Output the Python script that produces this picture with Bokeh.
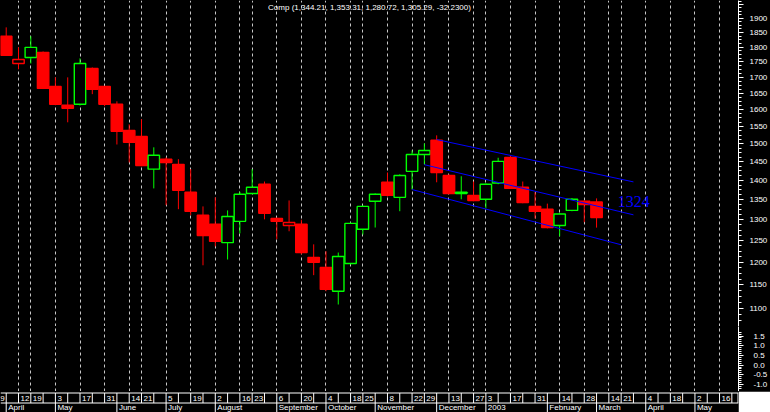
import pandas as pd
from bokeh.plotting import figure
from bokeh.layouts import column
from bokeh.models import ColumnDataSource, Range1d, FixedTicker, PrintfTickFormatter, Grid, Span
from bokeh.core.properties import value
from bokeh.embed import file_html
from bokeh.resources import INLINE

# ---------------- data (weekly candles, Friday dates) ----------------
symbol = "Comp"
dates = ["2002-04-05", "2002-04-12", "2002-04-19", "2002-04-26", "2002-05-03", "2002-05-10",
         "2002-05-17", "2002-05-24", "2002-05-31", "2002-06-07", "2002-06-14", "2002-06-21",
         "2002-06-28", "2002-07-05", "2002-07-12", "2002-07-19", "2002-07-26", "2002-08-02",
         "2002-08-09", "2002-08-16", "2002-08-23", "2002-08-30", "2002-09-06", "2002-09-13",
         "2002-09-20", "2002-09-27", "2002-10-04", "2002-10-11", "2002-10-18", "2002-10-25",
         "2002-11-01", "2002-11-08", "2002-11-15", "2002-11-22", "2002-11-29", "2002-12-06",
         "2002-12-13", "2002-12-20", "2002-12-27", "2003-01-03", "2003-01-10", "2003-01-17",
         "2003-01-24", "2003-01-31", "2003-02-07", "2003-02-14", "2003-02-21", "2003-02-28",
         "2003-03-07"]
opens = [1837, 1745, 1765, 1782, 1671, 1613, 1616, 1729, 1671, 1616, 1538, 1521, 1430, 1457,
         1443, 1369, 1311, 1289, 1245, 1296, 1366, 1390, 1303, 1286, 1289, 1211, 1188, 1136,
         1197, 1277, 1346, 1395, 1356, 1424, 1470, 1510, 1413, 1366, 1361, 1351, 1393, 1462,
         1382, 1333, 1326, 1286, 1323, 1346, 1344.21]
highs = [1868, 1799, 1837, 1785, 1700, 1700, 1762, 1732, 1672, 1625, 1556, 1571, 1490, 1462,
         1457, 1430, 1333, 1356, 1323, 1370, 1430, 1397, 1305, 1348, 1300, 1241, 1225, 1222,
         1293, 1335, 1366, 1421, 1416, 1481, 1501, 1524, 1416, 1411, 1397, 1392, 1461, 1468,
         1397, 1369, 1340, 1316, 1354, 1348, 1353.31]
lows = [1770, 1726, 1745, 1663, 1613, 1562, 1612, 1647, 1610, 1498, 1448, 1438, 1379, 1336,
        1326, 1311, 1193, 1236, 1206, 1267, 1364, 1301, 1253, 1272, 1218, 1171, 1136, 1108,
        1195, 1264, 1281, 1358, 1321, 1376, 1443, 1395, 1364, 1351, 1346, 1328, 1390, 1378,
        1341, 1303, 1279, 1260, 1321, 1294, 1280.72]
closes = [1772, 1758, 1799, 1665, 1616, 1604, 1745, 1662, 1616, 1536, 1504, 1440, 1468, 1448,
          1374, 1321, 1262, 1248, 1308, 1364, 1382, 1316, 1296, 1293, 1222, 1200, 1140, 1213,
          1291, 1333, 1364, 1361, 1413, 1470, 1481, 1421, 1366, 1369, 1348, 1390, 1451, 1379,
          1343, 1321, 1281, 1314, 1351, 1337.52, 1305.29]

# trend channel drawn on the chart
channel_start_dates = ["2002-12-06", "2002-11-29", "2002-11-22"]
channel_start_prices = [1512, 1442, 1376]
channel_end_dates = ["2003-03-28", "2003-03-28", "2003-03-21"]
channel_end_prices = [1396, 1312, 1240]
channel_label = "1324"
channel_label_date = "2003-03-19"
channel_label_price = 1345

# axis / tick data
grid_dates = ["2002-04-12", "2002-04-19", "2002-05-03", "2002-05-17", "2002-05-31", "2002-06-14",
              "2002-06-21", "2002-07-05", "2002-07-19", "2002-08-02", "2002-08-16", "2002-08-23",
              "2002-09-06", "2002-09-20", "2002-10-04", "2002-10-18", "2002-10-25", "2002-11-08",
              "2002-11-22", "2002-11-29", "2002-12-13", "2002-12-27", "2003-01-03", "2003-01-17",
              "2003-01-31", "2003-02-14", "2003-02-28", "2003-03-14", "2003-03-21", "2003-04-04",
              "2003-04-18", "2003-05-02", "2003-05-16"]
day_label_dates = ["2002-03-29"] + grid_dates
week_first, week_last = "2002-03-29", "2003-05-23"
month_names = ["January", "February", "March", "April", "May", "June", "July", "August",
               "September", "October", "November", "December"]
x_start, x_end = "2002-04-01 18:00", "2003-05-26 19:00"
price_low, price_high = 1063, 1965
price_major = [1100, 1150, 1200, 1250, 1300, 1350, 1400, 1450, 1500, 1550, 1600, 1650, 1700,
               1750, 1800, 1850, 1900, 1950]
ind_low, ind_high = -1.36, 1.99
ind_major = [-1.0, -0.5, 0.0, 0.5, 1.0, 1.5]

# ---------------- styling ----------------
FRAME_W, AXIS_W = 738, 32
PRICE_H, IND_H, DATE_H = 326, 65, 21
BG, FG, GRIDC, PAGE = "black", "white", "#c8c8c8", "white"
UP, DOWN, CHAN = "#00ff00", "#ff0000", "#0000ff"
FONT = "Liberation Sans"
DAY_MS = 86400000.0
EPOCH = pd.Timestamp("1970-01-01")


def ms(d):
    return float((pd.Timestamp(d) - EPOCH) / pd.Timedelta(milliseconds=1))


x_range = Range1d(ms(x_start), ms(x_end))
grid_ms = [ms(d) for d in grid_dates]


def make_fig(h, y_range, y_type="linear", axis=True):
    f = figure(frame_width=FRAME_W, frame_height=h, x_range=x_range, y_range=y_range,
               x_axis_type="datetime", y_axis_type=y_type, x_axis_location=None,
               y_axis_location="right" if axis else None,
               output_backend="svg", toolbar_location=None,
               background_fill_color=BG, border_fill_color=BG, outline_line_color=None,
               min_border=0, min_border_right=AXIS_W)
    f.center = [r for r in f.center if not isinstance(r, Grid)]
    return f


def style_axis(ax, major, minor, fmt, standoff=6):
    ax.ticker = FixedTicker(ticks=major, minor_ticks=minor)
    ax.formatter = PrintfTickFormatter(format=fmt)
    ax.axis_line_color = FG
    ax.major_tick_line_color = FG
    ax.minor_tick_line_color = FG
    ax.major_tick_in = 0
    ax.major_tick_out = 5
    ax.minor_tick_in = 0
    ax.minor_tick_out = 3
    ax.major_label_text_color = FG
    ax.major_label_text_font = FONT
    ax.major_label_text_font_size = "8px"
    ax.major_label_standoff = standoff


def add_vgrid(f):
    f.add_layout(Grid(dimension=0, ticker=FixedTicker(ticks=grid_ms), grid_line_color=GRIDC,
                      grid_line_dash="3 3", grid_line_width=1))


# ---------------- price panel ----------------
p1 = make_fig(PRICE_H, Range1d(price_low, price_high), y_type="log")
price_minor = [1050 + 12.5 * i for i in range(80)
               if price_low <= 1050 + 12.5 * i <= price_high and (1050 + 12.5 * i) % 50 != 0]
style_axis(p1.yaxis[0], price_major, price_minor, "%d")
p1.yaxis[0].major_label_overrides = {1950: ""}
add_vgrid(p1)

prev = [None] + closes[:-1]
line_colors, fill_colors = [], []
for o, c, pc in zip(opens, closes, prev):
    up = (c > pc) if pc is not None else (c > o)
    lc = UP if up else DOWN
    line_colors.append(lc)
    fill_colors.append(lc if c < o else BG)

src = ColumnDataSource(dict(
    x=[ms(d) for d in dates], high=highs, low=lows,
    top=[max(o, c) for o, c in zip(opens, closes)],
    bottom=[min(o, c) for o, c in zip(opens, closes)],
    lc=line_colors, fc=fill_colors))
p1.segment(x0="x", y0="low", x1="x", y1="high", line_color="lc", line_width=1, source=src)
p1.vbar(x="x", width=6.5 * DAY_MS, top="top", bottom="bottom", fill_color="fc",
        line_color="lc", line_width=1.4, source=src)

p1.segment(x0=[ms(d) for d in channel_start_dates], y0=channel_start_prices,
           x1=[ms(d) for d in channel_end_dates], y1=channel_end_prices,
           line_color=CHAN, line_width=1)
p1.text(x=[ms(channel_label_date)], y=[channel_label_price], text=[channel_label],
        text_color=CHAN, text_font=value("Liberation Sans Narrow"), text_font_size=value("16px"),
        text_align="left", text_baseline="middle")

title = "%s (%s, %s, %s, %s, %.4f)" % (symbol, f"{opens[-1]:,.2f}", f"{highs[-1]:,.2f}",
                                       f"{lows[-1]:,.2f}", f"{closes[-1]:,.2f}",
                                       closes[-1] - closes[-2])
p1.text(x=[(ms(x_start) + ms(x_end)) / 2], y=[price_high], text=[title], text_color=FG,
        text_font=value(FONT), text_font_size=value("8px"), text_align="center",
        text_baseline="top", y_offset=2)

# ---------------- indicator panel (empty) ----------------
p2 = make_fig(IND_H, Range1d(ind_low, ind_high))
ind_minor = [round(-1.2 + 0.1 * i, 1) for i in range(30)
             if abs(round((-1.2 + 0.1 * i) * 2, 6) - round((-1.2 + 0.1 * i) * 2)) > 1e-6]
style_axis(p2.yaxis[0], ind_major, ind_minor, "%.1f", standoff=10)
add_vgrid(p2)

# ---------------- date axis (two boxed rows) ----------------
p3 = make_fig(DATE_H, Range1d(0, DATE_H), axis=False)
p3.border_fill_color = PAGE
TOP_Y, MID_Y = DATE_H - 1.5, DATE_H - 11.5
p3.add_layout(Span(location=TOP_Y, dimension="width", line_color=FG, line_width=1))
p3.add_layout(Span(location=MID_Y, dimension="width", line_color=FG, line_width=1))

weeks = pd.date_range(week_first, week_last, freq="W-FRI")
week_ms = [ms(w) for w in weeks]
edge = ms(x_end) - 0.5 * (ms(x_end) - ms(x_start)) / FRAME_W
p3.segment(x0=week_ms + [edge], y0=MID_Y, x1=week_ms + [edge], y1=TOP_Y,
           line_color=FG, line_width=1)
p3.text(x=[ms(d) for d in day_label_dates], y=(TOP_Y + MID_Y) / 2,
        text=[str(pd.Timestamp(d).day) for d in day_label_dates],
        x_offset=2, text_color=FG, text_font=value(FONT), text_font_size=value("8px"),
        text_align="left", text_baseline="middle")

month_starts = [w for w in weeks if w.day <= 7]
month_ms = [ms(w) for w in month_starts]
month_labels = [str(w.year) if w.month == 1 else month_names[w.month - 1] for w in month_starts]
p3.segment(x0=month_ms, y0=0, x1=month_ms, y1=MID_Y, line_color=FG, line_width=1)
p3.text(x=month_ms, y=MID_Y / 2, text=month_labels, x_offset=2, text_color=FG,
        text_font=value(FONT), text_font_size=value("8px"), text_align="left",
        text_baseline="middle")

layout = column(p1, p2, p3, spacing=0, styles={"background-color": BG})
open("out.html", "w").write(file_html(layout, INLINE))
